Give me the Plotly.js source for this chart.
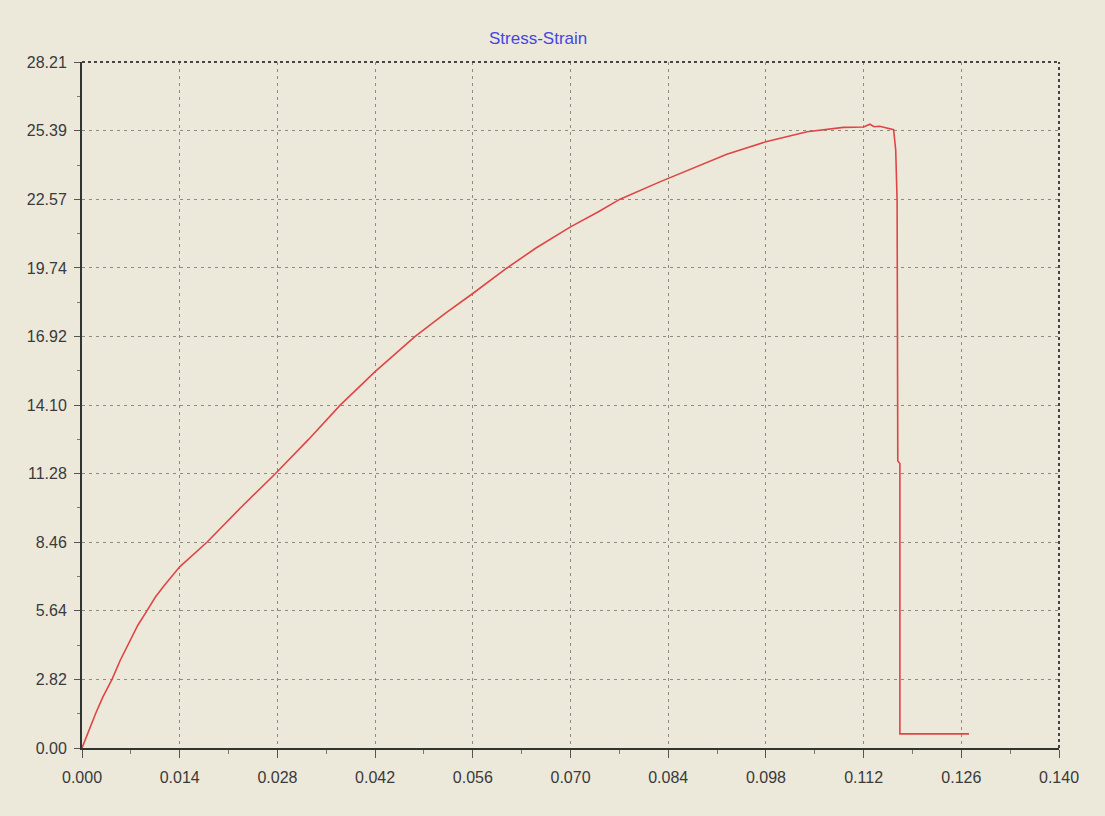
<!DOCTYPE html>
<html>
<head>
<meta charset="utf-8">
<script src="https://cdn.plot.ly/plotly-3.0.1.min.js"></script>
<style>html,body{margin:0;padding:0;background:#ECE9DB;}#chart{width:1105px;height:816px;}</style>
</head>
<body>
<div id="chart"></div>
<script>
const strain = [0, 0.0010, 0.0020, 0.0030, 0.0043, 0.0055, 0.0069, 0.0080, 0.0093, 0.0105, 0.0117, 0.0128, 0.0140, 0.0179, 0.0228, 0.0277, 0.0325, 0.0370, 0.0420, 0.0477, 0.0520, 0.0560, 0.0609, 0.0650, 0.0700, 0.0740, 0.0771, 0.0828, 0.0840, 0.0876, 0.0924, 0.0980, 0.1039, 0.1091, 0.1120, 0.1129, 0.1135, 0.1143, 0.1163, 0.1166, 0.1168, 0.1169, 0.1172, 0.1172, 0.1271];
const stress = [0, 0.74, 1.45, 2.10, 2.82, 3.62, 4.45, 5.05, 5.64, 6.20, 6.65, 7.05, 7.45, 8.46, 9.90, 11.28, 12.70, 14.10, 15.48, 16.92, 17.86, 18.69, 19.74, 20.55, 21.43, 22.05, 22.57, 23.28, 23.42, 23.85, 24.42, 24.93, 25.34, 25.52, 25.54, 25.65, 25.55, 25.57, 25.43, 24.6, 22.5, 11.8, 11.7, 0.58, 0.58];
const yTickVals = [0, 2.82, 5.64, 8.46, 11.28, 14.10, 16.92, 19.74, 22.57, 25.39, 28.21];
const yTickText = ["0.00", "2.82", "5.64", "8.46", "11.28", "14.10", "16.92", "19.74", "22.57", "25.39", "28.21"];
const xTickVals = [0, 0.014, 0.028, 0.042, 0.056, 0.070, 0.084, 0.098, 0.112, 0.126, 0.140];
const xTickText = ["0.000", "0.014", "0.028", "0.042", "0.056", "0.070", "0.084", "0.098", "0.112", "0.126", "0.140"];
const titleText = "Stress-Strain";

const tickFont = {family: "Liberation Sans, Arial, sans-serif", size: 16, color: "#3a3a3a"};
const trace = {
  x: strain, y: stress, type: "scatter", mode: "lines",
  line: {color: "#E04545", width: 1.6, shape: "linear"}, hoverinfo: "skip"
};
const layout = {
  width: 1105, height: 816,
  paper_bgcolor: "#ECE9DB", plot_bgcolor: "#ECE9DB",
  margin: {l: 82, r: 46, t: 62, b: 68},
  showlegend: false,
  title: {text: titleText, x: 0.487, xanchor: "center", y: 0.953, yanchor: "middle",
          font: {family: "Liberation Sans, Arial, sans-serif", size: 17, color: "#4646E0"}},
  xaxis: {
    range: [0, 0.14], tickmode: "array", tickvals: xTickVals, ticktext: xTickText,
    showgrid: true, gridcolor: "#8c8c84", griddash: "3px,4px", gridwidth: 1,
    zeroline: false, showline: true, linecolor: "#333333", linewidth: 2,
    ticks: "outside", ticklen: 8, tickcolor: "#555555", tickwidth: 1,
    ticklabelstandoff: 6,
    minor: {dtick: 0.007, tick0: 0, ticks: "outside", ticklen: 4, tickcolor: "#777777", showgrid: false},
    tickfont: tickFont, fixedrange: true
  },
  yaxis: {
    range: [0, 28.21], tickmode: "array", tickvals: yTickVals, ticktext: yTickText,
    showgrid: true, gridcolor: "#8c8c84", griddash: "3px,4px", gridwidth: 1,
    zeroline: false, showline: true, linecolor: "#333333", linewidth: 2,
    ticks: "outside", ticklen: 6, tickcolor: "#555555", tickwidth: 1,
    ticklabelstandoff: 4,
    minor: {dtick: 1.41, tick0: 0, ticks: "outside", ticklen: 3, tickcolor: "#777777", showgrid: false},
    tickfont: tickFont, fixedrange: true
  },
  shapes: [
    {type: "line", xref: "paper", yref: "paper", x0: 0, x1: 1, y0: 1, y1: 1,
     line: {color: "#444444", width: 2, dash: "3px,3px"}},
    {type: "line", xref: "paper", yref: "paper", x0: 1, x1: 1, y0: 0, y1: 1,
     line: {color: "#444444", width: 2, dash: "3px,3px"}}
  ]
};
Plotly.newPlot("chart", [trace], layout, {displayModeBar: false, staticPlot: true});
</script>
</body>
</html>
